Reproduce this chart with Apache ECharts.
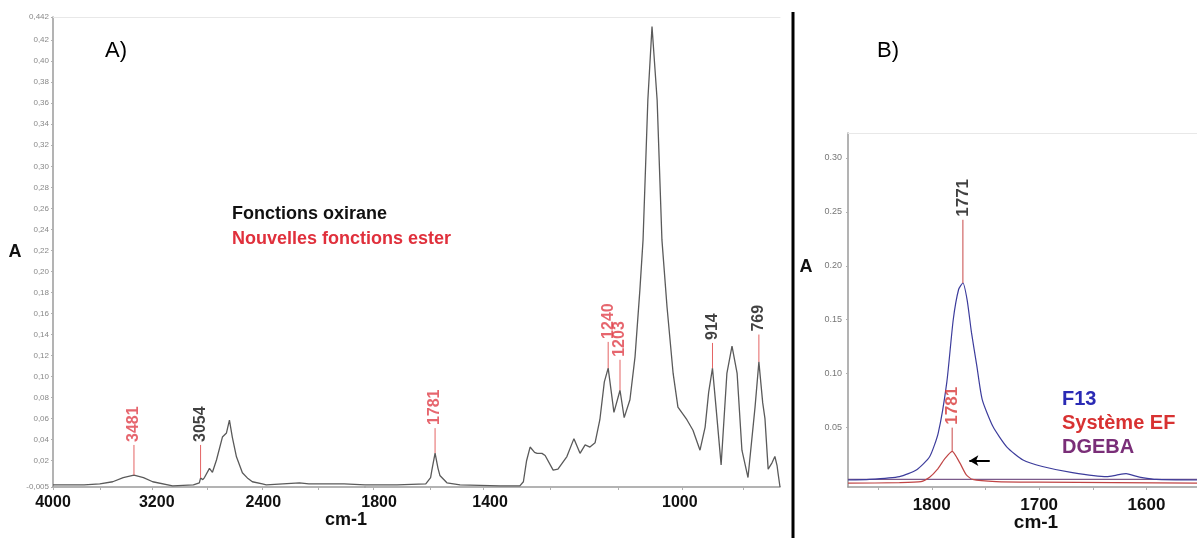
<!DOCTYPE html>
<html>
<head>
<meta charset="utf-8">
<script src="https://cdn.jsdelivr.net/npm/echarts@6/dist/echarts.min.js"></script>
<style>html,body{margin:0;padding:0;background:#fff}#c{width:1197px;height:538px}</style>
</head>
<body>
<div id="c"></div>
<script>
// ---------- Panel A : FTIR spectrum (wavenumber cm-1, absorbance) ----------
// 4000-2000 cm-1 part (drawn on the compressed left scale)
const spectrumHighWn  = [4000, 3800, 3700, 3617, 3550, 3481, 3420, 3361, 3233, 3100, 3062, 3054, 3040, 3029, 2997, 2978, 2952, 2914, 2888, 2869, 2850, 2824, 2786, 2750, 2722, 2658, 2633, 2420, 2360, 2300, 2134, 2000];
const spectrumHighAbs = [-0.003, -0.003, -0.002, 0.000, 0.004, 0.0064, 0.004, 0.000, -0.004, -0.003, -0.001, 0.0035, 0.002, 0.004, 0.0127, 0.009, 0.0207, 0.0425, 0.0464, 0.0587, 0.042, 0.0237, 0.0085, 0.003, 0.000, -0.002, -0.003, -0.001, -0.002, -0.002, -0.002, -0.003];
// 2000-700 cm-1 part (expanded scale)
const spectrumLowWn  = [2000, 1900, 1810, 1795, 1791, 1781, 1772, 1766, 1744, 1703, 1578, 1516, 1505, 1495, 1484, 1470, 1462, 1447, 1437, 1412, 1397, 1369, 1347, 1328, 1312, 1297, 1281, 1266, 1252, 1240, 1222, 1203, 1190, 1172, 1156, 1141, 1131, 1116, 1103, 1087, 1072, 1056, 1037, 1022, 994, 975, 953, 937, 926, 914, 903, 887, 869, 853, 837, 822, 803, 781, 769, 757, 750, 740, 728, 719, 712, 709, 703];
const spectrumLowAbs = [-0.003, -0.003, -0.002, 0.004, 0.011, 0.0273, 0.013, 0.006, -0.001, -0.003, -0.004, -0.004, 0.000, 0.020, 0.033, 0.028, 0.027, 0.027, 0.025, 0.011, 0.012, 0.024, 0.041, 0.027, 0.035, 0.033, 0.037, 0.059, 0.095, 0.108, 0.066, 0.087, 0.061, 0.078, 0.119, 0.182, 0.230, 0.363, 0.433, 0.363, 0.230, 0.166, 0.103, 0.071, 0.059, 0.049, 0.030, 0.052, 0.085, 0.108, 0.071, 0.016, 0.103, 0.129, 0.103, 0.030, 0.004, 0.071, 0.114, 0.075, 0.060, 0.012, 0.018, 0.024, 0.015, 0.008, -0.005];

// annotated bands: wavenumber, absorbance at band, top of marker, ester (red) or oxirane (black)
const peakWn      = [3481, 3054, 1781, 1240, 1203, 914, 769];
const peakAbs     = [0.0064, 0.0035, 0.0273, 0.108, 0.087, 0.108, 0.114];
const peakLineTop = [0.035, 0.035, 0.051, 0.133, 0.116, 0.132, 0.140];
const peakEster   = [true, false, true, true, true, false, false];

// axis tick labels of panel A
const leftYTicks = [-0.005, 0.02, 0.04, 0.06, 0.08, 0.10, 0.12, 0.14, 0.16, 0.18, 0.20, 0.22, 0.24, 0.26, 0.28, 0.30, 0.32, 0.34, 0.36, 0.38, 0.40, 0.42, 0.442];
const leftXLabelText = ['4000', '3200', '2400', '1800', '1400', '1000'];
const leftXLabelAt   = [4000, 3335, 2652, 1956, 1609, 1016];
const leftXTickAt    = [4000, 3700, 3361, 3010, 2658, 2300, 1975, 1797, 1631, 1422, 1209, 1009, 819];

// ---------- Panel B : carbonyl region ----------
const f13Wn  = [1878, 1858, 1830, 1814, 1802, 1794, 1786, 1780, 1775, 1771, 1767, 1763, 1758, 1753, 1743, 1730, 1715, 1697, 1669, 1637, 1628, 1619, 1610, 1604, 1591, 1553];
const f13Abs = [0.0015, 0.002, 0.0046, 0.011, 0.023, 0.045, 0.092, 0.150, 0.178, 0.184, 0.168, 0.138, 0.107, 0.076, 0.051, 0.032, 0.020, 0.014, 0.0083, 0.0046, 0.006, 0.0074, 0.005, 0.0037, 0.002, 0.0015];
const efWn   = [1878, 1830, 1810, 1802, 1795, 1788, 1781, 1774, 1768, 1762, 1740, 1700, 1553];
const efAbs  = [-0.0015, -0.001, 0.000, 0.004, 0.011, 0.021, 0.028, 0.0176, 0.0065, 0.002, 0.000, -0.0005, -0.0015];
const dgebaWn  = [1878, 1553];
const dgebaAbs = [0.002, 0.002];
const bSeriesNames = ['F13', 'Système EF', 'DGEBA'];
const bPeakWn  = [1771, 1781];
const bPeakAbs = [0.184, 0.028];
const bPeakTop = [0.2426, 0.050];
const bPeakRed = [false, true];
const arrowWn  = [1765, 1746];
const arrowAbs = 0.0194;
const rightYTicks = [0.05, 0.10, 0.15, 0.20, 0.25, 0.30];
const rightXLabels = [1800, 1700, 1600];
const rightXTicks  = [1850, 1800, 1750, 1700, 1650, 1600];

// ---------- build ----------
const FF = "'Liberation Sans', Arial, sans-serif";
const RED = '#e0404a';
const zip = (a, b) => a.map((v, i) => [v, b[i]]);

// vertical marker sticks: one line series, segments separated by empty points
function stickSeries(xi, yi, wn, abs, top, color) {
  const data = [];
  wn.forEach((w, i) => { data.push([w, abs[i]], [w, top[i]], [w, '-']); });
  return {
    type: 'line', xAxisIndex: xi, yAxisIndex: yi, data: data, showSymbol: false, silent: true,
    connectNulls: false, z: 4, lineStyle: { color: color, width: 1 }, itemStyle: { color: color }
  };
}
// rotated text labels at the top of each stick
function labelSeries(xi, yi, wn, top, textColor, fontSize) {
  return {
    type: 'scatter', xAxisIndex: xi, yAxisIndex: yi, symbolSize: 0, silent: true, z: 5,
    data: wn.map((w, i) => [w, top[i]]),
    label: {
      show: true, formatter: p => String(p.value[0]), rotate: 90, position: 'top', distance: 3,
      align: 'left', verticalAlign: 'middle', fontSize: fontSize, fontWeight: 'bold', fontFamily: FF, color: textColor
    }
  };
}
function bandGroups(xi, yi, keep) {
  const all = peakWn.map((w, i) => i).filter(i => keep(peakWn[i]));
  const out = [stickSeries(xi, yi, all.map(i => peakWn[i]), all.map(i => peakAbs[i]), all.map(i => peakLineTop[i]), '#e46464')];
  [true, false].forEach(ester => {
    const idx = all.filter(i => peakEster[i] === ester);
    out.push(labelSeries(xi, yi, idx.map(i => peakWn[i]), idx.map(i => peakLineTop[i]), ester ? RED : '#111', 16));
  });
  return out;
}
function bGroups() {
  const out = [stickSeries(2, 2, bPeakWn, bPeakAbs, bPeakTop, '#c84848')];
  [true, false].forEach(red => {
    const idx = bPeakWn.map((w, i) => i).filter(i => bPeakRed[i] === red);
    out.push(labelSeries(2, 2, idx.map(i => bPeakWn[i]), idx.map(i => bPeakTop[i]), red ? '#d83a3a' : '#111', 17));
  });
  return out;
}

const labelLookup = v => { const i = leftXLabelAt.indexOf(v); return i >= 0 ? leftXLabelText[i] : ''; };
const axisGray = '#9a9a9a';
const bottomLeftAxis = (gi, min, max, pred) => ({
  type: 'value', gridIndex: gi, min: min, max: max, inverse: true, position: 'bottom',
  axisLine: { show: true, onZero: false, lineStyle: { color: axisGray, width: 1.5 } },
  axisTick: { show: true, customValues: leftXTickAt.filter(pred), length: 3, lineStyle: { color: '#b0b0b0' } },
  axisLabel: { customValues: leftXLabelAt.filter(pred), formatter: labelLookup, fontSize: 16, fontWeight: 'bold', color: '#111', fontFamily: FF, margin: 8 },
  splitLine: { show: false }
});
const topAxis = (gi, min, max) => ({
  type: 'value', gridIndex: gi, min: min, max: max, position: 'top',
  axisLine: { show: true, onZero: false, lineStyle: { color: '#e8e8e8', width: 1 } },
  axisTick: { show: false }, axisLabel: { show: false }, splitLine: { show: false }
});

const option = {
  animation: false,
  backgroundColor: '#ffffff',
  grid: [
    { left: 53, top: 17, width: 312, height: 470 },
    { left: 365, top: 17, width: 415, height: 470 },
    { left: 848, top: 133, right: 0, height: 354 }
  ],
  xAxis: [
    bottomLeftAxis(0, 2000, 4000, v => v >= 2000),
    bottomLeftAxis(1, 703, 2000, v => v < 2000),
    {
      type: 'value', gridIndex: 2, min: 1553, max: 1878, inverse: true,
      axisLine: { show: true, onZero: false, lineStyle: { color: axisGray, width: 1.5 } },
      axisTick: { show: true, customValues: rightXTicks, length: 3, lineStyle: { color: '#b0b0b0' } },
      axisLabel: { customValues: rightXLabels, formatter: v => String(v), fontSize: 17, fontWeight: 'bold', color: '#111', fontFamily: FF, margin: 10 },
      splitLine: { show: false }
    },
    topAxis(0, 2000, 4000), topAxis(1, 703, 2000), topAxis(2, 1553, 1878)
  ],
  yAxis: [
    {
      type: 'value', gridIndex: 0, min: -0.005, max: 0.442,
      axisLine: { show: true, onZero: false, lineStyle: { color: axisGray, width: 1.5 } },
      axisTick: { show: true, customValues: leftYTicks, length: 2, lineStyle: { color: '#b0b0b0' } },
      axisLabel: {
        customValues: leftYTicks, fontSize: 8, color: '#888', fontFamily: FF, margin: 4,
        formatter: v => (Math.abs(v - 0.442) < 1e-9 || Math.abs(v + 0.005) < 1e-9 ? v.toFixed(3) : v.toFixed(2)).replace('.', ',')
      },
      splitLine: { show: false },
      name: 'A', nameLocation: 'middle', nameRotate: 0, nameGap: 21,
      nameTextStyle: { fontSize: 18, fontWeight: 'bold', color: '#111', fontFamily: FF }
    },
    { type: 'value', gridIndex: 1, min: -0.005, max: 0.442, show: false },
    {
      type: 'value', gridIndex: 2, min: -0.005, max: 0.323,
      axisLine: { show: true, onZero: false, lineStyle: { color: axisGray, width: 1.5 } },
      axisTick: { show: true, customValues: rightYTicks, length: 2, lineStyle: { color: '#b0b0b0' } },
      axisLabel: { customValues: rightYTicks, fontSize: 9, color: '#777', fontFamily: FF, margin: 6, formatter: v => v.toFixed(2) },
      splitLine: { show: false }
    }
  ],
  legend: {
    data: [
      { name: bSeriesNames[0], textStyle: { color: '#2a2ab4' } },
      { name: bSeriesNames[1], textStyle: { color: '#d83232' } },
      { name: bSeriesNames[2], textStyle: { color: '#7a2e78' } }
    ],
    orient: 'vertical', left: 1062, top: 389, itemGap: 4, padding: 0,
    icon: 'none', itemWidth: 0, itemHeight: 20, selectedMode: false,
    textStyle: { fontSize: 20, fontWeight: 'bold', fontFamily: FF, padding: [0, 0, 0, -5] }
  },
  series: [
    { type: 'line', xAxisIndex: 0, yAxisIndex: 0, data: zip(spectrumHighWn, spectrumHighAbs), showSymbol: false, silent: true, lineStyle: { color: '#5a5a5a', width: 1.3 }, z: 3 },
    { type: 'line', xAxisIndex: 1, yAxisIndex: 1, data: zip(spectrumLowWn, spectrumLowAbs), showSymbol: false, silent: true, lineStyle: { color: '#5a5a5a', width: 1.3 }, z: 3 },
    ...bandGroups(0, 0, w => w > 2000),
    ...bandGroups(1, 1, w => w <= 2000),
    { name: bSeriesNames[2], type: 'line', xAxisIndex: 2, yAxisIndex: 2, data: zip(dgebaWn, dgebaAbs), showSymbol: false, silent: true, lineStyle: { color: '#7a5a8a', width: 1.2 }, itemStyle: { color: '#7a2e78' } },
    { name: bSeriesNames[1], type: 'line', xAxisIndex: 2, yAxisIndex: 2, data: zip(efWn, efAbs), showSymbol: false, silent: true, smooth: 0.2, lineStyle: { color: '#c04545', width: 1.2 }, itemStyle: { color: '#d83232' } },
    { name: bSeriesNames[0], type: 'line', xAxisIndex: 2, yAxisIndex: 2, data: zip(f13Wn, f13Abs), showSymbol: false, silent: true, smooth: 0.2, lineStyle: { color: '#3c3c9c', width: 1.2 }, itemStyle: { color: '#2a2ab4' } },
    ...bGroups(),
    {
      type: 'line', xAxisIndex: 2, yAxisIndex: 2, data: [], silent: true, itemStyle: { color: '#000' },
      markLine: {
        silent: true, symbol: ['arrow', 'none'], symbolSize: [8, 9], label: { show: false }, animation: false,
        lineStyle: { color: '#000', width: 2, type: 'solid' },
        data: [[{ coord: [arrowWn[0], arrowAbs] }, { coord: [arrowWn[1], arrowAbs] }]]
      }
    }
  ],
  graphic: [
    { type: 'text', left: 105, top: 40, style: { text: 'A)', font: "22px 'Liberation Sans', Arial, sans-serif", fill: '#000' } },
    { type: 'text', left: 877, top: 40, style: { text: 'B)', font: "22px 'Liberation Sans', Arial, sans-serif", fill: '#000' } },
    { type: 'text', left: 232, top: 205, style: { text: 'Fonctions oxirane', font: "bold 18px 'Liberation Sans', Arial, sans-serif", fill: '#111' } },
    { type: 'text', left: 232, top: 230, style: { text: 'Nouvelles fonctions ester', font: "bold 18px 'Liberation Sans', Arial, sans-serif", fill: '#e0303c' } },
    { type: 'line', shape: { x1: 793, y1: 12, x2: 793, y2: 538 }, style: { stroke: '#000', lineWidth: 3 } },
    { type: 'text', x: 346, y: 520, style: { text: 'cm-1', align: 'center', verticalAlign: 'middle', font: "bold 18px 'Liberation Sans', Arial, sans-serif", fill: '#111' } },
    { type: 'text', x: 1036, y: 523, style: { text: 'cm-1', align: 'center', verticalAlign: 'middle', font: "bold 19px 'Liberation Sans', Arial, sans-serif", fill: '#111' } },
    { type: 'text', x: 806, y: 267, style: { text: 'A', align: 'center', verticalAlign: 'middle', font: "bold 18px 'Liberation Sans', Arial, sans-serif", fill: '#111' } }
  ]
};

const chart = echarts.init(document.getElementById('c'), null, { renderer: 'canvas' });
chart.setOption(option);
</script>
</body>
</html>
